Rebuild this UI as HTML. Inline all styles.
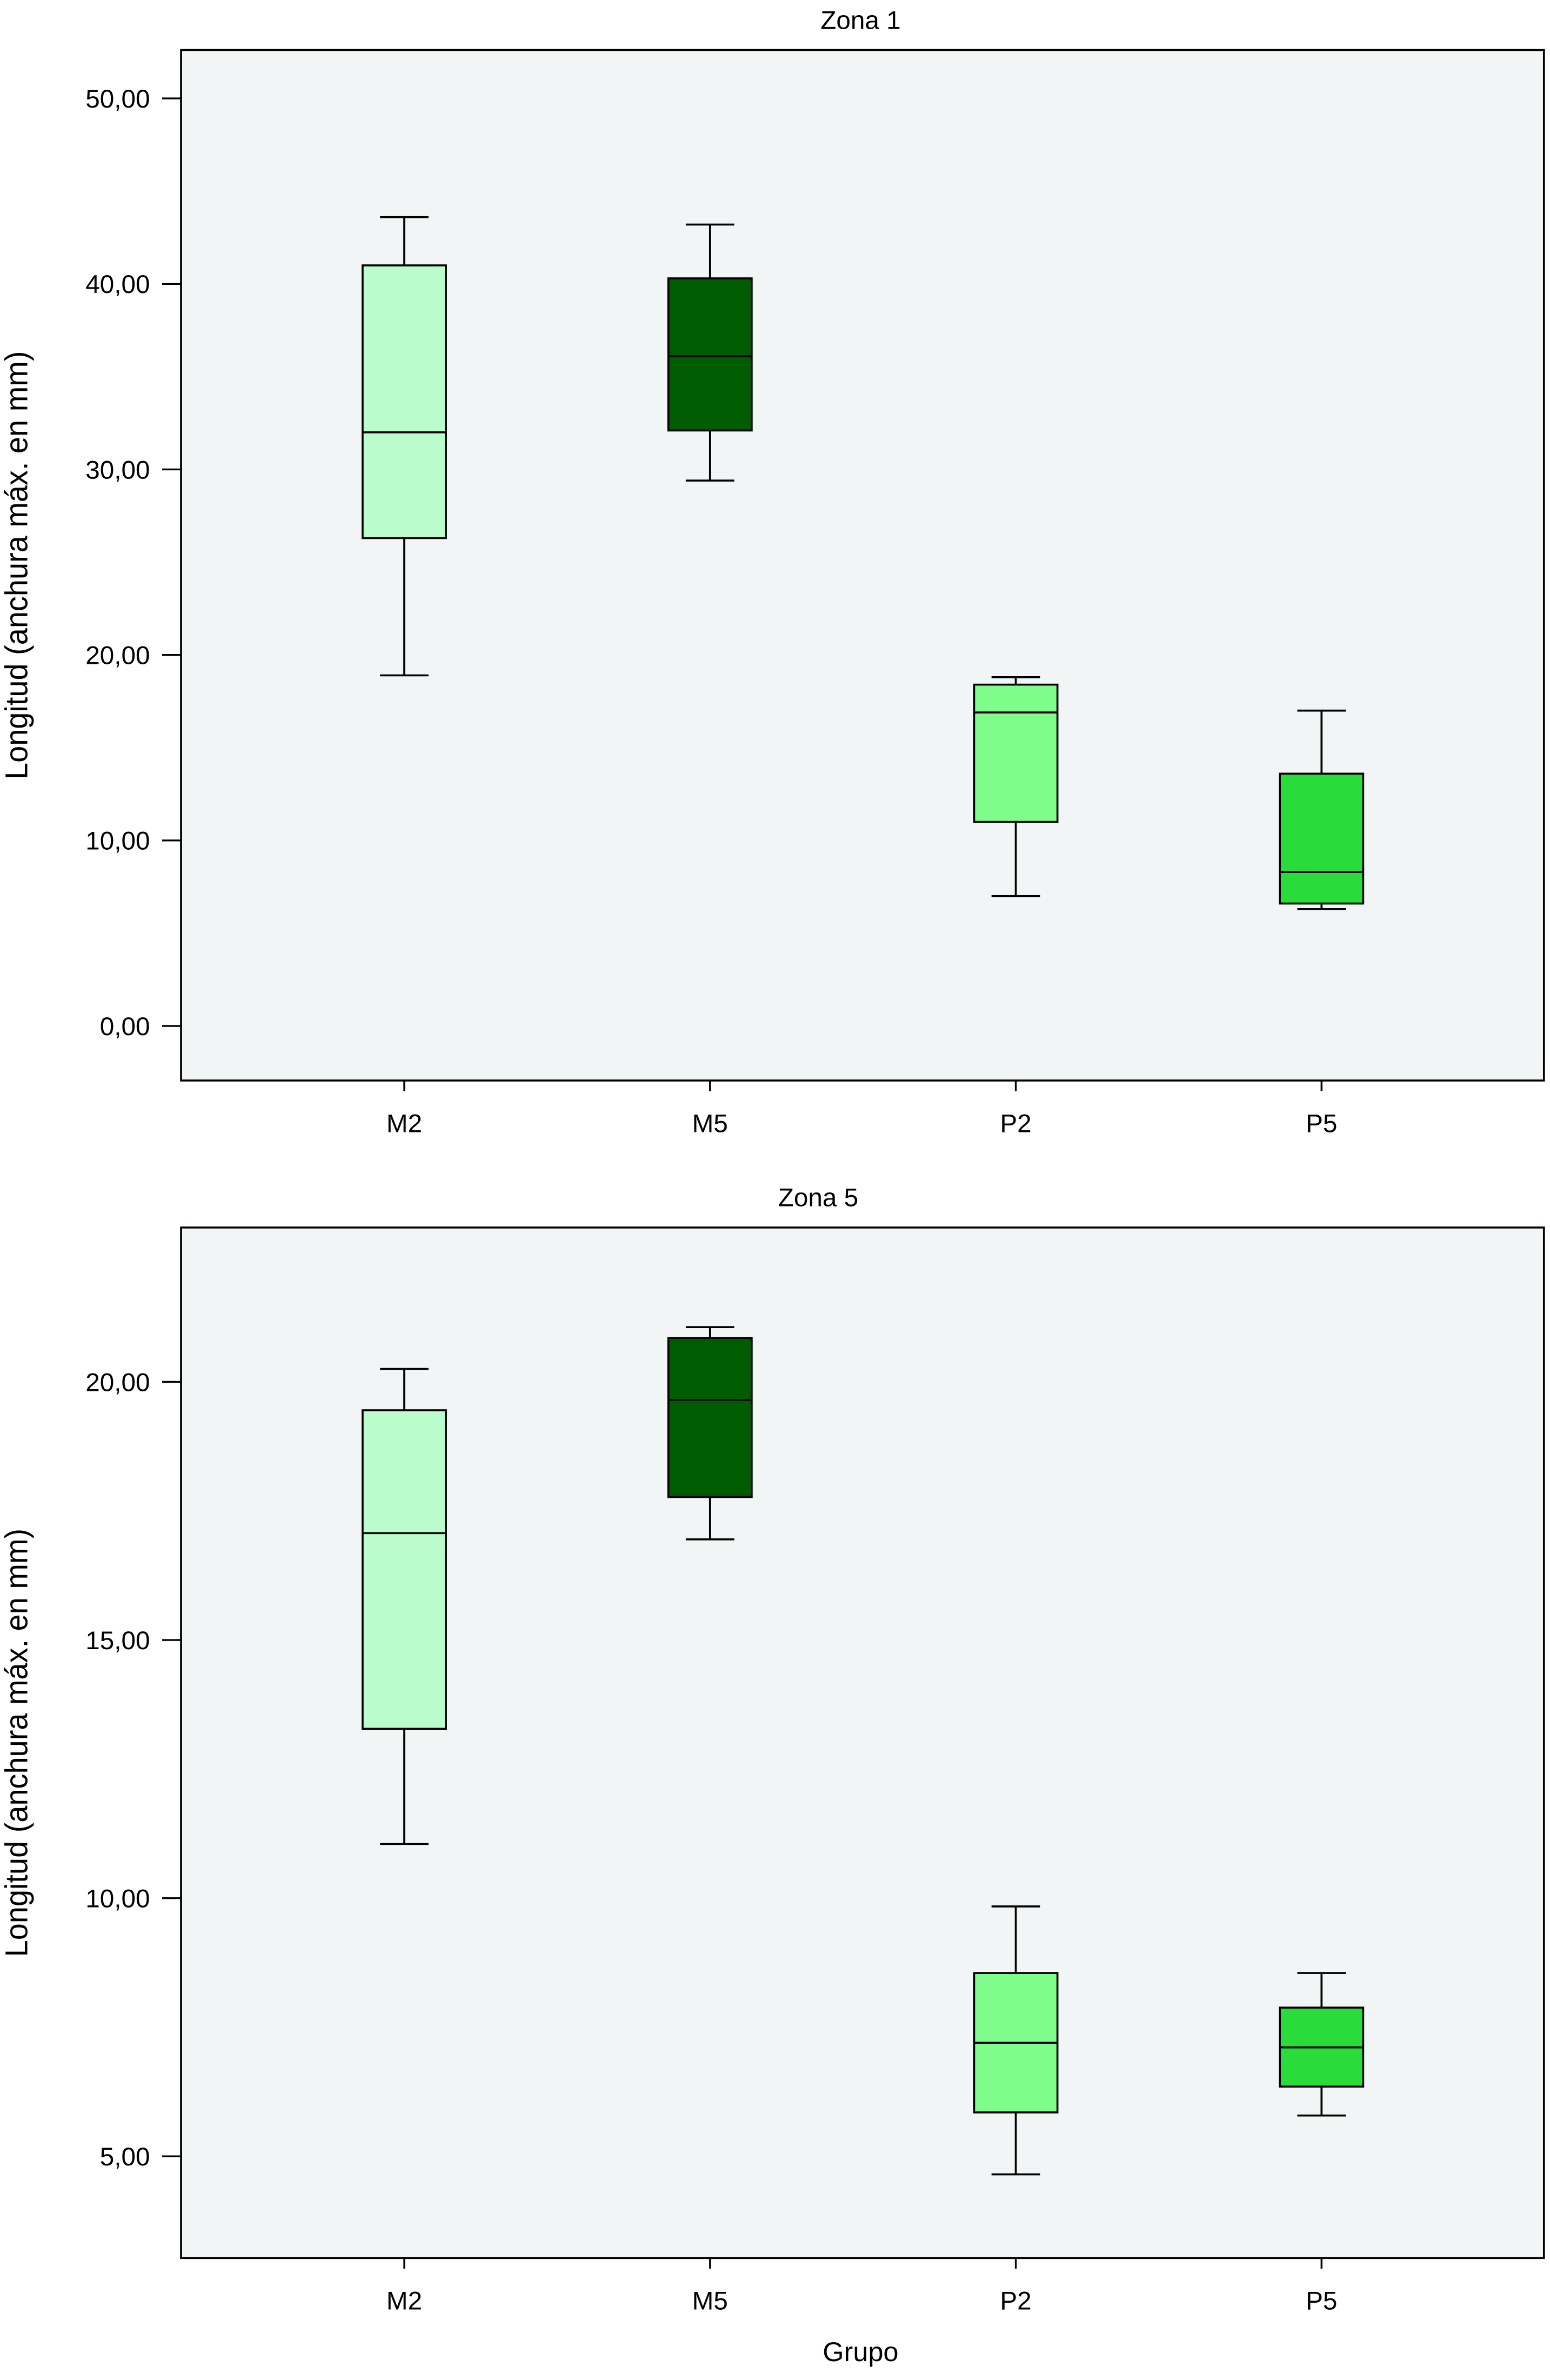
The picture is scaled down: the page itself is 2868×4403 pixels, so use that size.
<!DOCTYPE html>
<html><head><meta charset="utf-8"><style>
html,body{margin:0;padding:0;background:#fff}
svg{display:block}
text{font-family:"Liberation Sans",sans-serif;fill:#000}
</style></head><body>
<svg id="c" width="2868" height="4403" viewBox="0 0 1023 1570.5" preserveAspectRatio="none" xmlns="http://www.w3.org/2000/svg"></svg>
<script>
const categories = ["M2","M5","P2","P5"];
const colors = ["#bbfccc","#005c00","#80fc8c","#2adc3a"];
// Zona 1: [min, q1, median, q3, max]
const zona1Min = [18.9, 29.4, 7.0, 6.3];
const zona1Q1 = [26.3, 32.1, 11.0, 6.6];
const zona1Med = [32.0, 36.1, 16.9, 8.3];
const zona1Q3 = [41.0, 40.3, 18.4, 13.6];
const zona1Max = [43.6, 43.2, 18.8, 17.0];
const zona1Ticks = [0,10,20,30,40,50];
const zona1TickLabels = ["0,00","10,00","20,00","30,00","40,00","50,00"];
// Zona 5
const zona5Min = [11.05, 16.95, 4.65, 5.79];
const zona5Q1 = [13.28, 17.77, 5.85, 6.35];
const zona5Med = [17.07, 19.65, 7.2, 7.11];
const zona5Q3 = [19.45, 20.85, 8.55, 7.88];
const zona5Max = [20.25, 21.06, 9.84, 8.55];
const zona5Ticks = [5,10,15,20];
const zona5TickLabels = ["5,00","10,00","15,00","20,00"];

const svg = document.getElementById('c');
const NS = "http://www.w3.org/2000/svg";
function el(tag, attrs, parent){const e=document.createElementNS(NS,tag);for(const k in attrs)e.setAttribute(k,attrs[k]);(parent||svg).appendChild(e);return e;}

function chart(id, title, titleX, top, bottom, yTopVal, yBotVal, ticks, tickLabels, mins, q1s, meds, q3s, maxs){
  const x0=119.5, x1=1019;
  const g = el('g',{});
  
  
  const y = v => bottom - (v - yBotVal)/(yTopVal - yBotVal)*(bottom-top);
  const xc = i => x0 + (i+0.73)*201.8;
  const bg = el('rect',{x:x0,y:top,width:x1-x0,height:bottom-top,fill:'#f2f5f5',stroke:'#000','stroke-width':1.3},g);
  
  
  const t = el('text',{x:titleX,y:top-14,'text-anchor':'middle','font-size':17},g);
  t.textContent=title;
  
  
  const yl = el('text',{x:0,y:0,'text-anchor':'middle','font-size':21,transform:`translate(18,${(top+bottom)/2}) rotate(-90) scale(0.95,1)`},g);
  yl.textContent='Longitud (anchura máx. en mm)';
  
  
  ticks.forEach((v,i)=>{
    const ty=y(v);
    const tl = el('line',{x1:107,x2:x0,y1:ty,y2:ty,stroke:'#000','stroke-width':1.2},g);
    
    
    const tx = el('text',{x:99,y:ty+6,'text-anchor':'end','font-size':17},g);
    tx.textContent=tickLabels[i];
    
    
  });
  categories.forEach((c,i)=>{
    const cx=xc(i), hw=27.5, cw=16;
    const bx = el('g',{},g);
    
    
    const L=(a,b,cc,d)=>el('line',{x1:a,y1:b,x2:cc,y2:d,stroke:'#000','stroke-width':1.3},bx);
    L(cx,y(maxs[i]),cx,y(q3s[i]));
    L(cx,y(q1s[i]),cx,y(mins[i]));
    L(cx-cw,y(maxs[i]),cx+cw,y(maxs[i]));
    L(cx-cw,y(mins[i]),cx+cw,y(mins[i]));
    el('rect',{x:cx-hw,y:y(q3s[i]),width:2*hw,height:y(q1s[i])-y(q3s[i]),fill:colors[i],stroke:'#000','stroke-width':1.3},bx);
    L(cx-hw,y(meds[i]),cx+hw,y(meds[i]));
    const xt = el('line',{x1:cx,x2:cx,y1:bottom,y2:bottom+7,stroke:'#000','stroke-width':1.2},g);
    
    
    const xl = el('text',{x:cx,y:bottom+34,'text-anchor':'middle','font-size':17},g);
    xl.textContent=c;
    
    
  });
}
chart('chart-zona-1','Zona 1',568,33,713,52.61,-2.94,zona1Ticks,zona1TickLabels,zona1Min,zona1Q1,zona1Med,zona1Q3,zona1Max);
chart('chart-zona-5','Zona 5',540,810,1490,22.99,3.03,zona5Ticks,zona5TickLabels,zona5Min,zona5Q1,zona5Med,zona5Q3,zona5Max);
const gx = el('text',{x:568,y:1558,'text-anchor':'middle','font-size':18});
gx.textContent='Grupo';


</script>
</body></html>
